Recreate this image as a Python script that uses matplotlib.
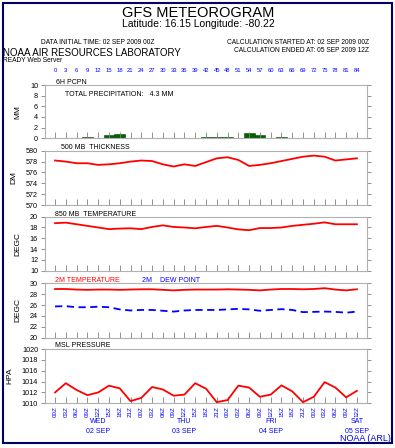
import matplotlib
matplotlib.use("Agg")
import matplotlib.pyplot as plt
import matplotlib.transforms as mtransforms
from matplotlib.patches import Rectangle

plt.rcParams['font.family'] = ['Liberation Sans', 'DejaVu Sans']

# ---------------- data ----------------
hours = [0, 3, 6, 9, 12, 15, 18, 21, 24, 27, 30, 33, 36, 39, 42, 45, 48, 51, 54,
         57, 60, 63, 66, 69, 72, 75, 78, 81, 84]
time_labels = ["00Z", "03Z", "06Z", "09Z", "12Z", "15Z", "18Z", "21Z",
               "00Z", "03Z", "06Z", "09Z", "12Z", "15Z", "18Z", "21Z",
               "00Z", "03Z", "06Z", "09Z", "12Z", "15Z", "18Z", "21Z",
               "00Z", "03Z", "06Z", "09Z", "12Z"]
day_hours = [12, 36, 60, 84]
day_labels = ["WED\n02 SEP", "THU\n03 SEP", "FRI\n04 SEP", "SAT\n05 SEP"]

pcpn_hours = [9, 15, 18, 42, 45, 48, 54, 57, 63]
pcpn_mm = [0.25, 0.7, 0.75, 0.2, 0.2, 0.2, 1.05, 0.7, 0.25]

thickness = [578.2, 578.0, 577.7, 577.7, 577.4, 577.5, 577.7, 578.0, 578.2, 578.1,
             577.5, 577.1, 577.5, 577.2, 577.9, 578.6, 578.8, 578.3, 577.2, 577.4,
             577.7, 578.1, 578.5, 578.9, 579.1, 578.9, 578.2, 578.4, 578.6]

t850 = [18.8, 18.9, 18.6, 18.3, 18.0, 17.7, 17.8, 17.85, 17.7, 18.1,
        18.4, 18.1, 18.0, 17.85, 18.1, 18.3, 18.0, 17.65, 17.5, 17.9,
        17.9, 18.0, 18.3, 18.5, 18.7, 18.95, 18.6, 18.6, 18.6]

t2m = [28.95, 28.95, 28.85, 28.8, 28.85, 28.85, 28.8, 28.85, 28.9, 28.9,
       28.8, 28.7, 28.8, 28.85, 28.85, 28.85, 28.9, 28.85, 28.8, 28.7,
       28.85, 28.95, 28.95, 28.9, 28.95, 29.1, 28.85, 28.7, 28.9]

td2m = [25.75, 25.8, 25.6, 25.6, 25.7, 25.6, 25.2, 25.0, 25.1, 25.1,
        24.95, 24.8, 25.0, 25.1, 25.1, 25.1, 25.2, 25.3, 25.2, 24.95,
        25.1, 25.25, 25.1, 24.7, 24.75, 24.8, 24.75, 24.6, 24.8]

mslp = [1012.0, 1013.7, 1012.45, 1011.5, 1012.0, 1013.25, 1012.75, 1010.4, 1011.0, 1013.0,
        1012.55, 1011.4, 1011.6, 1013.7, 1012.7, 1010.2, 1010.6, 1013.25, 1012.9, 1011.2,
        1011.6, 1013.3, 1012.2, 1010.2, 1011.2, 1013.9, 1012.9, 1011.1, 1012.3]

# ---------------- figure ----------------
W, H = 395, 448
fig = plt.figure(figsize=(W / 100, H / 100), dpi=100)
fig.patch.set_facecolor('white')

def fx(px):
    return px / W

def fy(py):
    return 1 - py / H

# outer frame
fig.patches.append(Rectangle((fx(3), fy(443)), fx(389), (440) / H,
                             transform=fig.transFigure, fill=False,
                             edgecolor='#000066', linewidth=1.5))

BLUE = '#0000ff'
RED = '#ff0000'
GRAY = '#b0b0b0'

left = fx(45)
width = fx(367) - fx(45)
panels = [(85, 138.3), (150.7, 205.2), (216.7, 270.7), (283.3, 337.7), (349, 403.3)]
axes = []
for top, bot in panels:
    ax = fig.add_axes([left, fy(bot), width, (bot - top) / H])
    axes.append(ax)

xmin, xmax = -2.8, 86.8
tick_fs = 5.2

def style(ax, ylim, yticks, ylabel):
    ax.set_xlim(xmin, xmax)
    ax.set_ylim(*ylim)
    ax.set_yticks(yticks)
    ax.set_xticks(hours)
    for s in ax.spines.values():
        s.set_color(GRAY)
        s.set_linewidth(0.8)
    ax.tick_params(axis='x', direction='in', length=4, width=0.6, color='#808080',
                   labelbottom=False)
    ax.tick_params(axis='y', direction='out', length=3, width=0.6, color='#808080',
                   labelsize=tick_fs, pad=2, right=True)
    ax.set_ylabel(ylabel, fontsize=6, labelpad=6)

# panel 1: precipitation
ax = axes[0]
ax.bar(pcpn_hours, pcpn_mm, width=3.0, color='#006400', edgecolor='#004400', linewidth=0.4)
style(ax, (0, 10), [0, 2, 4, 6, 8, 10], 'MM')
ax.text(0.034, 1.04, '6H PCPN', transform=ax.transAxes, fontsize=5, va='center')
ax.text(0.062, 0.82, 'TOTAL PRECIPITATION:   4.3 MM', transform=ax.transAxes,
        fontsize=5, va='center')
# top hour labels
trans = mtransforms.blended_transform_factory(ax.transData, fig.transFigure)
for h in hours:
    ax.text(h, fy(70), str(h), transform=trans, fontsize=4.2, color=BLUE,
            ha='center', va='center')

# panel 2: thickness
ax = axes[1]
ax.plot(hours, thickness, color=RED, linewidth=1.3)
style(ax, (570, 580), [570, 572, 574, 576, 578, 580], 'DM')
ax.text(0.05, 1.05, '500 MB  THICKNESS', transform=ax.transAxes, fontsize=5, va='center')

# panel 3: 850 temperature
ax = axes[2]
ax.plot(hours, t850, color=RED, linewidth=1.3)
style(ax, (10, 20), [10, 12, 14, 16, 18, 20], 'DEGC')
ax.text(0.03, 1.05, '850 MB  TEMPERATURE', transform=ax.transAxes, fontsize=5, va='center')

# panel 4: 2m temp / dew point
ax = axes[3]
ax.plot(hours, t2m, color=RED, linewidth=1.3)
ax.plot(hours, td2m, color=BLUE, linewidth=1.3, linestyle=(0, (4, 2.5)))
style(ax, (20, 30), [20, 22, 24, 26, 28, 30], 'DEGC')
ax.text(0.03, 1.06, '2M TEMPERATURE', transform=ax.transAxes, fontsize=5,
        va='center', color=RED)
ax.text(0.30, 1.06, '2M    DEW POINT', transform=ax.transAxes, fontsize=5,
        va='center', color=BLUE)

# panel 5: MSL pressure
ax = axes[4]
ax.plot(hours, mslp, color=RED, linewidth=1.3)
style(ax, (1010, 1020), [1010, 1012, 1014, 1016, 1018, 1020], 'HPA')
ax.text(0.03, 1.06, 'MSL PRESSURE', transform=ax.transAxes, fontsize=5, va='center')
ax.tick_params(axis='x', labelbottom=True, labelsize=4.5, labelcolor=BLUE, pad=2)
ax.set_xticklabels(time_labels, rotation=90)
trans = mtransforms.blended_transform_factory(ax.transData, fig.transFigure)
for h, lab in zip(day_hours, day_labels):
    ax.text(h, fy(426.5), lab, transform=trans, fontsize=5, color=BLUE,
            ha='center', va='center', linespacing=1.45)

# header texts
fig.text(fx(198), fy(13), 'GFS METEOROGRAM', fontsize=10.5, ha='center', va='center')
fig.text(fx(198), fy(24), 'Latitude: 16.15 Longitude: -80.22', fontsize=7.5,
         ha='center', va='center')
fig.text(fx(98), fy(43), 'DATA INITIAL TIME: 02 SEP 2009 00Z', fontsize=4.8,
         ha='center', va='center')
fig.text(fx(369), fy(43), 'CALCULATION STARTED AT: 02 SEP 2009 00Z', fontsize=4.8,
         ha='right', va='center')
fig.text(fx(369), fy(50), 'CALCULATION ENDED AT: 05 SEP 2009 12Z', fontsize=4.8,
         ha='right', va='center')
fig.text(fx(3), fy(53), 'NOAA AIR RESOURCES LABORATORY', fontsize=7, ha='left', va='center')
fig.text(fx(3), fy(61), 'READY Web Server', fontsize=4.8, ha='left', va='center')
fig.text(fx(391), fy(438.5), 'NOAA (ARL)', fontsize=6.5, ha='right', va='center', color=BLUE)

fig.savefig('out.png', dpi=100)
